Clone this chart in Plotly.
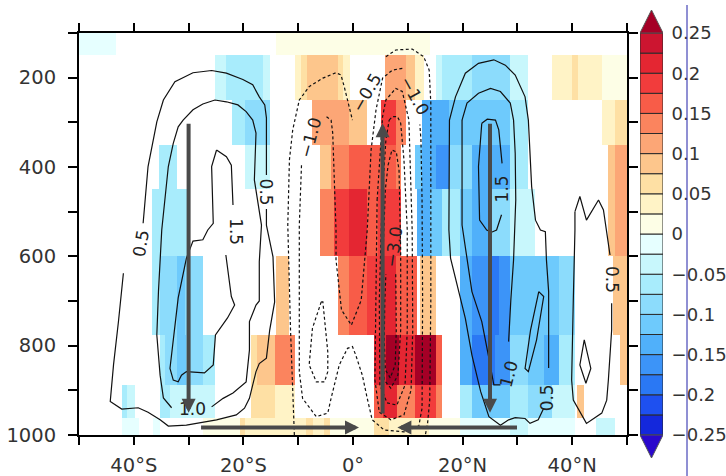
import plotly.graph_objects as go

# ---------------- data ----------------
# pressure levels (hPa) of the shaded field rows
levels_p = [100, 200, 300, 400, 500, 700, 850, 925, 1000]

# shaded field, per level: (lat_start, lat_end, value)
row_100 = [(-50, -43.3, -0.01), (-14.1, 14.0, 0.01)]
row_200 = [(-25.2, -23.1, -0.04), (-23.1, -16.5, -0.06), (-16.5, -15.1, -0.04),
           (-10.6, -9.4, 0.04), (-9.4, -8.4, 0.06), (-8.4, -2.8, 0.09), (-2.8, -1.8, 0.06),
           (-1.8, -0.5, 0.04), (5.9, 9.6, 0.11), (9.6, 11.4, 0.09), (11.4, 12.9, 0.04),
           (15.1, 16.3, -0.04), (16.3, 21.7, -0.06), (21.7, 28.7, -0.09), (28.7, 32.0, -0.04),
           (36.4, 39.9, 0.04), (39.9, 41.0, 0.06), (41.0, 45.5, 0.04), (45.5, 50, 0.01)]
row_300 = [(-22.0, -19.8, -0.06), (-19.8, -15.1, -0.09), (-7.4, -0.7, 0.11), (-0.7, 2.6, 0.09),
           (5.1, 7.8, 0.19), (7.8, 9.6, 0.14), (12.6, 17.5, -0.14), (17.5, 28.7, -0.11),
           (28.7, 32.0, -0.06), (45.5, 47.8, 0.04), (47.8, 50, 0.06)]
row_400 = [(-35.4, -32.1, -0.06), (-19.8, -15.1, -0.04), (-6.1, -4.0, 0.09), (-4.0, -0.7, 0.14),
           (-0.7, 7.8, 0.16), (7.8, 8.7, 0.14), (11.4, 12.6, -0.11), (12.6, 15.1, -0.14),
           (15.1, 17.5, -0.16), (17.5, 21.7, -0.09), (21.7, 28.7, -0.14), (28.7, 32.0, -0.06),
           (46.6, 47.8, 0.09), (47.8, 50, 0.11)]
row_500 = [(-36.6, -30.2, -0.06), (-6.1, -3.4, 0.14), (-3.4, -0.7, 0.19), (-0.7, 2.6, 0.21),
           (2.6, 4.5, 0.16), (4.5, 8.7, 0.19), (11.7, 14.0, -0.14), (14.0, 16.2, -0.11),
           (16.2, 19.6, -0.06), (19.6, 21.7, -0.11), (21.7, 24.8, -0.14), (24.8, 28.7, -0.09),
           (28.7, 33.3, -0.04), (46.6, 47.8, 0.09), (47.8, 50, 0.11)]
row_700 = [(-36.6, -35.3, -0.06), (-35.3, -32.1, -0.09), (-32.1, -30.7, -0.11), (-30.7, -27.3, -0.09),
           (-14.1, -11.7, 0.09), (-2.8, -0.7, 0.14), (-0.7, 2.6, 0.16), (2.6, 5.1, 0.19),
           (5.1, 7.8, 0.21), (7.8, 11.7, 0.16), (12.3, 15.1, 0.09), (19.6, 21.7, -0.14),
           (21.7, 24.8, -0.16), (24.8, 26.6, -0.19), (26.6, 28.7, -0.16), (28.7, 37.5, -0.11),
           (37.5, 40.5, -0.09), (47.5, 50, 0.09)]
row_850 = [(-35.2, -34.3, -0.06), (-34.3, -32.2, -0.09), (-32.2, -30.4, -0.11), (-30.4, -27.4, -0.09),
           (-27.4, -25.2, -0.06), (-18.7, -17.6, 0.06), (-17.6, -14.3, 0.09), (-14.3, -10.5, 0.14),
           (3.9, 6.0, 0.21), (6.0, 8.4, 0.27), (8.4, 11.4, 0.21), (11.4, 15.1, 0.27), (15.1, 16.3, 0.16),
           (19.6, 21.7, -0.14), (21.7, 26.0, -0.19), (26.0, 28.7, -0.16), (28.7, 32.0, -0.09),
           (32.0, 34.8, -0.11), (34.8, 37.5, -0.14), (37.5, 40.5, -0.06), (48.7, 50, 0.09)]
row_925 = [(-42.2, -41.3, -0.06), (-41.3, -39.8, -0.04), (-35.2, -33.4, -0.06), (-33.4, -25.2, -0.04),
           (-18.7, -14.3, 0.06), (-14.3, -10.5, 0.04), (3.9, 5.4, 0.16), (5.4, 8.1, 0.21),
           (8.1, 11.4, 0.14), (11.4, 15.1, 0.19), (15.1, 16.3, 0.14), (19.6, 21.7, -0.06),
           (21.7, 28.7, -0.11), (28.7, 32.0, -0.06), (32.0, 36.3, -0.09), (36.3, 40.5, -0.04),
           (40.8, 42.1, 0.09)]
row_1000 = [(-42.2, -39.1, -0.01), (-36.5, -35.2, -0.01), (-27.4, -20.6, 0.01), (-20.6, -19.7, 0.06),
            (-19.7, -8.5, 0.04), (-8.5, -7.3, 0.06), (-7.3, -5.3, 0.04), (-5.3, -4.2, 0.06),
            (-4.2, 3.9, 0.01), (3.9, 6.6, 0.06), (6.6, 13.9, 0.04), (13.9, 19.6, 0.01),
            (19.6, 28.7, -0.01), (28.7, 32.0, -0.04), (32.0, 40.5, -0.01), (44.4, 47.9, -0.04)]
rows = [row_100, row_200, row_300, row_400, row_500, row_700, row_850, row_925, row_1000]

# contour lines (lat, hPa); None = gap for a label
c_pos05_s = [(-38.3, 526), (-37.4, 399), (-35.8, 299), (-34.6, 250), (-32.5, 209), (-29.2, 189),
             (-25.8, 184), (-23.1, 190), (-20.1, 204), (-18.3, 216), (-17.1, 243), (-16.1, 261),
             (-15.8, 290), (-15.8, 418), None, (-15.8, 494), (-15.8, 530), (-14.6, 601), (-14.3, 702),
             (-15.2, 765), (-15.8, 828), (-17.1, 840), (-17.7, 858), (-18.9, 918), (-19.8, 940),
             (-21.3, 955), (-24.9, 966), (-30.4, 978), (-33.7, 980), (-35.2, 966), (-37.4, 949),
             (-39.2, 939), (-42.2, 942), (-44.3, 925), (-43.7, 843), (-42.8, 746), (-41.9, 638)]
c_pos10_s = [(-25.8, 937), (-23.7, 918), (-21.9, 906), (-19.5, 881), (-18.9, 810), (-18.9, 746),
             (-17.7, 709), (-17.1, 700), (-17.1, 612), (-16.7, 530), (-18.0, 429), (-17.7, 324),
             (-18.3, 295), (-19.5, 276), (-21.0, 261), (-23.1, 254), (-25.2, 250), (-27.4, 259),
             (-29.2, 272), (-31.0, 295), (-31.9, 310), (-32.8, 347), (-33.7, 399), (-34.9, 541),
             (-35.5, 679), (-35.8, 776), (-35.2, 866), (-34.6, 917), (-33.1, 939)]
c_pos15_s = [(-24.9, 362), (-23.1, 377), (-22.2, 396), (-21.9, 485), None, (-23.2, 597), (-22.2, 690),
             (-21.6, 709), (-22.9, 738), (-25.1, 776), (-25.5, 843), (-27.1, 861), (-30.4, 858),
             (-31.3, 866), (-31.9, 881), (-32.8, 877), (-33.4, 851), (-31.9, 693), (-30.4, 604),
             (-29.2, 566), (-27.4, 563), (-26.5, 541), (-25.5, 526), (-25.8, 399), (-24.9, 362)]
c_pos05_n = [(17.5, 541), (17.6, 295), (18.7, 243), (20.5, 190), (22.9, 168), (25.7, 160), (27.8, 172),
             (29.6, 194), (31.4, 243), (32.0, 295), (32.3, 369), (32.6, 444), (33.3, 519), (34.2, 541),
             (35.1, 545), (35.3, 608), (35.7, 679), (35.7, 850), None, (34.8, 940), (33.8, 966),
             (32.3, 974), (31.4, 963), (29.6, 961), (28.4, 966), (26.9, 978), (24.8, 959), (23.3, 903),
             (21.7, 821), (20.5, 739), (19.3, 679), (17.8, 604), (17.5, 541)]
c_pos10_n = [(19.9, 295), (20.8, 257), (22.9, 235), (25.1, 224), (26.9, 231), (28.7, 257), (29.3, 295),
             (29.6, 369), (29.7, 474), (29.3, 608), (28.8, 698), (28.4, 791), None, (26.9, 888),
             (25.7, 888), (24.8, 828), (23.5, 746), (21.7, 679), (19.9, 530), (19.9, 295)]
c_pos15_n = [(23.5, 302), (24.5, 293), (26.0, 295), (26.6, 317), (27.2, 392), None, (27.1, 507),
             (26.2, 541), (25.3, 546), (24.4, 541), (23.1, 519), (22.9, 399), (23.5, 302)]
c_pos10_n2 = [(33.9, 679), (34.8, 690), (33.5, 787), (32.0, 858), (31.4, 851), (32.4, 765), (33.9, 679)]
c_pos05_n3 = [(40.5, 500), (40.5, 541), (40.2, 698), (39.9, 877), (40.2, 922), (42.6, 974), (45.4, 951),
              (46.3, 922), (46.6, 877), (47.2, 765), (47.2, 705), None, (46.9, 597), (46.3, 541),
              (45.7, 496), (44.8, 474), (42.6, 519), (41.4, 466), (40.5, 500)]
c_pos10_n3 = [(42.2, 787), (43.4, 851), (42.5, 884), (41.4, 843), (42.2, 787)]

c_neg05 = [(-10.7, 1000), (-11.4, 765), (-11.9, 530), (-11.6, 384), (-11.0, 317), (-9.8, 250),
           (-8.0, 220), (-5.5, 201), (-3.1, 189), (-2.2, 194), (-1.6, 220), (-0.7, 265), (-0.1, 295),
           None, (6.0, 153), (7.8, 138), (10.8, 136), (12.9, 153), (13.9, 183), (14.2, 257),
           (14.2, 541), (14.2, 698), (14.0, 922), (13.6, 975), (13.2, 1000)]
c_neg10 = [(-9.4, 396), (-9.8, 530), (-9.8, 858), (-9.2, 918), (-6.7, 959), (-4.6, 951), (-4.0, 918),
           (-2.5, 843), (-1.0, 806), (-0.1, 802), (0.5, 821), (1.7, 866), (2.6, 918), (3.5, 966),
           (5.7, 989), (9.3, 993), (12.0, 980), (12.6, 940), (12.7, 698), (12.6, 474), (12.4, 340),
           (12.2, 305), None, (9.0, 179), (7.2, 183), (5.4, 201), (4.2, 272), (3.3, 362), (2.6, 541),
           (1.5, 698), (-0.3, 754), (-2.1, 720), (-3.1, 608), (-3.1, 541), (-3.7, 324), (-4.0, 295),
           (-4.9, 287)]
c_neg15_s = [(-5.8, 702), (-7.4, 761), (-8.0, 843), (-6.7, 881), (-5.2, 881), (-4.6, 858),
             (-4.6, 814), (-5.5, 702), (-5.8, 702)]
c_neg15 = [(4.4, 474), (5.4, 287), (6.0, 250), (7.8, 224), (9.0, 231), (9.6, 265), (10.2, 295),
           (10.8, 541), (10.9, 765), (10.6, 899), (9.3, 955), (6.9, 966), (4.8, 949), (4.0, 877),
           (4.2, 698), (4.4, 474)]
c_neg20 = [(6.6, 295), (7.2, 287), (8.1, 287), (8.7, 302), (9.3, 384), (9.9, 541), (9.9, 765),
           (9.5, 888), (8.0, 933), (6.2, 928), (4.9, 888), (4.8, 698), (5.3, 474), (6.0, 340), (6.6, 295)]
c_neg25 = [(6.4, 396), (7.1, 362), (7.9, 366), (8.4, 407), (8.7, 586), (8.7, 765), (8.2, 866),
           (6.9, 895), (5.7, 877), (5.3, 765), (5.5, 586), (5.9, 451), (6.4, 396)]
c_neg30 = [(7.8, 640), (7.9, 765), (7.7, 843), (6.8, 872), (5.9, 854), (5.7, 787), (5.8, 700), (6.0, 640)]

solid_lines = [c_pos05_s, c_pos10_s, c_pos15_s, c_pos05_n, c_pos10_n, c_pos15_n,
               c_pos10_n2, c_pos05_n3, c_pos10_n3]
dashed_lines = [c_neg05, c_neg10, c_neg15_s, c_neg15, c_neg20, c_neg25, c_neg30]

# contour labels: (text, lat, hPa, angle)
contour_labels = [("0.5", -38.7, 570, -80), ("0.5", -15.8, 456, 90), ("1.5", -21.5, 544, 90),
                  ("1.0", -29.3, 942, 0), ("\u22121.0", -7.8, 335, -75), ("\u22120.5", 2.4, 234, -60),
                  ("\u22121.0", 11.3, 241, 61), ("\u22123.0", 7.5, 580, -82), ("1.5", 27.1, 449, -90),
                  ("1.0", 28.4, 863, -75), ("0.5", 35.3, 917, -90), ("0.5", 47.3, 651, 90)]

# circulation arrows: (lat_from, p_from, lat_to, p_to)
arrows = [(-30, 300, -30, 950), (5.4, 955, 5.4, 302), (25, 300, 25, 950),
          (-28, 983, 1.1, 983), (30.2, 983, 8.1, 983)]

# colour bar
cb_levels = [-0.25, -0.225, -0.2, -0.175, -0.15, -0.125, -0.1, -0.075, -0.05, -0.025, 0,
             0.025, 0.05, 0.075, 0.1, 0.125, 0.15, 0.175, 0.2, 0.225, 0.25]
cb_labels = ["\u22120.25", "\u22120.2", "\u22120.15", "\u22120.1", "\u22120.05", "0",
             "0.05", "0.1", "0.15", "0.2", "0.25"]
cb_label_vals = [-0.25, -0.2, -0.15, -0.1, -0.05, 0, 0.05, 0.1, 0.15, 0.2, 0.25]
colors = ["#2a08cc", "#1428dc", "#1e50f0", "#2a78f4", "#3c94f8", "#50b0fa", "#6ecafc",
          "#8cdcfc", "#a8ecfc", "#c8f7fc", "#e6ffff",
          "#fdfee6", "#fff3c6", "#fee0a4", "#fdc68c", "#fca676", "#fb845e", "#f85c48",
          "#f23c3c", "#e42632", "#cc1530", "#a50026"]

lat_ticks = [-50, -40, -30, -20, -10, 0, 10, 20, 30, 40, 50]
lat_text = ["", "40\u00b0S", "", "20\u00b0S", "", "0\u00b0", "", "20\u00b0N", "", "40\u00b0N", ""]
p_ticks = [100, 200, 300, 400, 500, 600, 700, 800, 900, 1000]
p_text = ["", "200", "", "400", "", "600", "", "800", "", "1000"]

# ---------------- build ----------------
zmin, zmax = -0.275, 0.275
nb = len(colors)
cscale = []
for i, c in enumerate(colors):
    cscale.append([i / nb, c])
    cscale.append([(i + 1) / nb, c])

edges = sorted(set([-50.0, 50.0] + [float(v) for r in rows for s in r for v in s[:2]]))
centers = [(a + b) / 2 for a, b in zip(edges[:-1], edges[1:])]
z = []
for r in rows:
    line = []
    for c in centers:
        val = None
        for a, b, v in r:
            if a <= c <= b:
                val = v
        line.append(val)
    z.append(line)
p_edges = [levels_p[0]] + [(a + b) / 2 for a, b in zip(levels_p[:-1], levels_p[1:])] + [levels_p[-1]]

fig = go.Figure()
fig.add_trace(go.Heatmap(x=edges, y=p_edges, z=z, zmin=zmin, zmax=zmax, colorscale=cscale,
                         showscale=False, hoverinfo="skip", xaxis="x", yaxis="y"))


def xy(pts):
    xs = [p[0] if p is not None else None for p in pts]
    ys = [p[1] if p is not None else None for p in pts]
    return xs, ys


for ln in solid_lines:
    xs, ys = xy(ln)
    fig.add_trace(go.Scatter(x=xs, y=ys, mode="lines", line=dict(color="#111111", width=1.2),
                             hoverinfo="skip", showlegend=False, connectgaps=False))
for ln in dashed_lines:
    xs, ys = xy(ln)
    fig.add_trace(go.Scatter(x=xs, y=ys, mode="lines",
                             line=dict(color="#111111", width=1.2, dash="3px,2.5px"),
                             hoverinfo="skip", showlegend=False, connectgaps=False))

annotations = []
for t, la, pp, ang in contour_labels:
    annotations.append(dict(text=t, x=la, y=pp, xref="x", yref="y", showarrow=False,
                            textangle=ang, font=dict(family="DejaVu Sans", size=17, color="#222222")))
for x0, y0, x1, y1 in arrows:
    annotations.append(dict(text="", x=x1, y=y1, ax=x0, ay=y0, xref="x", yref="y", axref="x",
                            ayref="y", showarrow=True, arrowhead=2, arrowsize=0.7, arrowwidth=4,
                            arrowcolor="#4a4a4a", standoff=0, startstandoff=0))

# colour bar boxes
tri = 0.0286
for i in range(len(cb_levels) - 1):
    lo, hi = cb_levels[i], cb_levels[i + 1]
    fig.add_trace(go.Scatter(x=[0, 1, 1, 0, 0], y=[lo, lo, hi, hi, lo], mode="lines", fill="toself",
                             fillcolor=colors[i + 1], line=dict(color="#2a2a2a", width=1),
                             xaxis="x2", yaxis="y2", hoverinfo="skip", showlegend=False))
fig.add_trace(go.Scatter(x=[0, 1, 0.5, 0], y=[cb_levels[-1], cb_levels[-1], cb_levels[-1] + tri, cb_levels[-1]],
                         mode="lines", fill="toself", fillcolor=colors[-1], line=dict(color="#555555", width=1),
                         xaxis="x2", yaxis="y2", hoverinfo="skip", showlegend=False))
fig.add_trace(go.Scatter(x=[0, 1, 0.5, 0], y=[cb_levels[0], cb_levels[0], cb_levels[0] - tri, cb_levels[0]],
                         mode="lines", fill="toself", fillcolor=colors[0], line=dict(color="#555555", width=1),
                         xaxis="x2", yaxis="y2", hoverinfo="skip", showlegend=False))

W, H = 726, 476
ml, mr, mt, mb = 79, 6, 8, 18
pw, ph = W - ml - mr, H - mt - mb
x_dom = [0, (627 - ml) / pw]
y_dom = [(H - mb - 435) / ph, (H - mb - 33) / ph]
cb_dom = [(640 - ml) / pw, (663 - ml) / pw]
cb_rng = [-0.25 - 23 / 402 * 0.5, 0.25 + 25 / 402 * 0.5]

tickfont = dict(family="DejaVu Sans", size=19.5, color="#333333")
fig.update_layout(
    width=W, height=H, margin=dict(l=ml, r=mr, t=mt, b=mb, autoexpand=False),
    paper_bgcolor="white", plot_bgcolor="white", showlegend=False,
    xaxis=dict(domain=x_dom, range=[-50, 50], tickvals=lat_ticks, ticktext=lat_text,
               ticks="outside", ticklen=8, tickwidth=1.5, tickcolor="black", showline=True,
               linecolor="black", linewidth=2, mirror="ticks", showgrid=False, zeroline=False,
               tickfont=tickfont, anchor="y", automargin=False, ticklabelstandoff=4),
    yaxis=dict(domain=y_dom, range=[1000, 100], tickvals=p_ticks, ticktext=p_text,
               ticks="outside", ticklen=9, tickwidth=1.5, tickcolor="black", showline=True,
               linecolor="black", linewidth=2, mirror="ticks", showgrid=False, zeroline=False,
               tickfont=tickfont, anchor="x", automargin=False, ticklabelstandoff=8),
    xaxis2=dict(domain=cb_dom, range=[0, 1], visible=False, anchor="y2", fixedrange=True),
    yaxis2=dict(domain=[0, 1], range=cb_rng, anchor="x2", side="right", tickvals=cb_label_vals,
                ticktext=cb_labels, ticks="outside", ticklen=3, tickcolor="rgba(0,0,0,0)",
                showline=False, showgrid=False, zeroline=False, automargin=False,
                tickfont=dict(family="DejaVu Sans", size=18, color="#333333"), ticklabelstandoff=1),
    annotations=annotations,
    shapes=[dict(type="line", xref="paper", yref="paper", x0=(687 - ml) / pw, x1=(687 - ml) / pw,
                 y0=-mb / ph, y1=(H - mb - 5) / ph, line=dict(color="#2020a8", width=1))],
)

fig.write_html("out.html", config={"displayModeBar": False},
               post_script="document.body.style.margin='0px';document.body.style.overflow='hidden';")
